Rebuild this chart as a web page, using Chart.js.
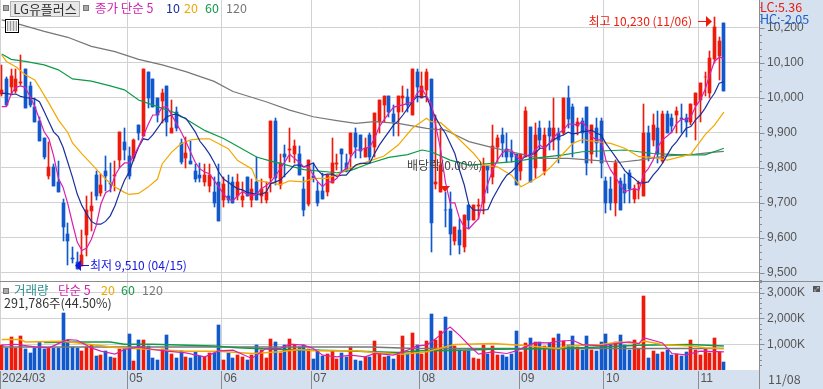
<!DOCTYPE html>
<html>
<head>
<meta charset="utf-8">
<script src="https://cdn.jsdelivr.net/npm/chart.js@4/dist/chart.umd.min.js"></script>
<style>
  html, body { margin: 0; padding: 0; width: 823px; height: 389px; overflow: hidden; background: #d6e1ef; }
  #price, #vol { position: absolute; left: 0; display: block; }
  #price { top: 0; }
  #vol { top: 282px; }
  .sep { position: absolute; left: 0; top: 281px; width: 823px; height: 1px; background: #8c8c8c; }
  .vline { position: absolute; left: 759px; top: 370px; width: 1px; height: 19px; background: #8c8c8c; }
  .t { position: absolute; font: 12.5px "Noto Sans CJK KR", "Liberation Sans", sans-serif; line-height: 14px; white-space: nowrap; }
  .sq { position: absolute; width: 4px; height: 4px; background: #aaa; border: 1px solid #777; }
  #nameBox { position: absolute; left: 10px; top: 1px; width: 68px; height: 14px; background: #e8e8e8; border: 1px solid #b0b0b0; color: #333; text-align: center; font: 13px/14px "Noto Sans CJK KR", sans-serif; }
  #tableIcon { position: absolute; left: 5px; top: 19px; width: 12px; height: 12px; border: 1px solid #000; background: #fff; }
  #tableIcon div { margin: 1px; width: 10px; height: 10px; background: repeating-linear-gradient(90deg, #999 0 1px, #ddd 1px 3px); }
  #zoomIcon { position: absolute; left: 813px; top: 286px; width: 7px; height: 6px; background: #555; color: #fff; font: 6px/6px "DejaVu Sans", sans-serif; text-align: center; }
</style>
</head>
<body>
<canvas id="price" width="823" height="281"></canvas>
<canvas id="vol" width="823" height="107"></canvas>
<div class="sep"></div>
<div class="vline"></div>

<div class="sq" style="left:3px;top:5px"></div>
<div id="nameBox">LG유플러스</div>
<div class="sq" style="left:83px;top:5px"></div>
<div class="t" style="left:95px;top:1px;color:#d020b0">종가 단순 5</div>
<div class="t" style="left:166px;top:1px;color:#1a2f9c">10</div>
<div class="t" style="left:184px;top:1px;color:#f0a800">20</div>
<div class="t" style="left:205px;top:1px;color:#12994a">60</div>
<div class="t" style="left:226px;top:1px;color:#777">120</div>
<div id="tableIcon"><div></div></div>
<div class="t" style="left:760px;top:0px;color:#e8190c">LC:5.36</div>
<div class="t" style="left:760px;top:12px;color:#1e5fc8">HC:-2.05</div>

<div class="sq" style="left:3px;top:288px"></div>
<div class="t" style="left:14px;top:283px;color:#2f8f8f">거래량</div>
<div class="t" style="left:58px;top:283px;color:#d020b0">단순 5</div>
<div class="t" style="left:101px;top:283px;color:#f0a800">20</div>
<div class="t" style="left:121px;top:283px;color:#12994a">60</div>
<div class="t" style="left:142px;top:283px;color:#777">120</div>
<div class="t" style="left:4px;top:296px;color:#333">291,786주(44.50%)</div>
<div class="t" style="left:768px;top:372px;color:#555">11/08</div>
<div id="zoomIcon">⤢</div>

<script>
const opens = [
  10010,10052,10031,10020,10041,10082,10033,9972,9934,9883,
  9777,9801,9760,9700,9610,9541,9529,9519,9608,9677,
  9780,9727,9791,9755,9777,9822,9872,9832,9828,9922,
  9890,10073,10053,10000,9990,10033,9898,9960,9871,9828,
  9820,9791,9780,9758,9748,9731,9760,9708,9720,9760,
  9720,9708,9772,9708,9760,9720,9708,9769,9933,9751,
  9840,9851,9838,9840,9740,9697,9775,9733,9733,9730,
  9757,9810,9853,9813,9838,9900,9893,9831,9893,9859,
  9931,9979,10003,9953,9960,10000,10001,9950,10074,10000,
  10022,10053,9754,9730,9680,9681,9589,9622,9573,9692,
  9649,9690,9699,9804,9773,9859,9893,9853,9845,9840,
  9791,9831,9915,9799,9912,9791,9912,9878,9900,9900,
  10000,9972,9920,9933,9972,9838,9912,9933,9761,9740,
  9699,9761,9753,9783,9710,9753,9719,9900,9878,9912,
  9818,9953,9942,9950,9941,9942,9931,9979,9993,10058,
  10012,10109,10119,10212
];
const closes = [
  10022,9979,10062,10053,10045,9971,9979,9931,9876,9830,
  9801,9748,9729,9629,9589,9538,9510,9550,9679,9691,
  9718,9751,9777,9752,9780,9901,9849,9777,9880,9898,
  10082,9999,9974,9950,10012,9931,9912,9912,9815,9841,
  9810,9767,9769,9780,9780,9698,9648,9753,9708,9698,
  9760,9720,9718,9739,9708,9739,9729,9933,9769,9814,
  9831,9853,9861,9778,9678,9821,9771,9699,9711,9780,
  9812,9813,9838,9794,9900,9859,9847,9855,9831,9955,
  9993,10003,9960,9931,10003,10003,9979,10082,10031,10033,
  10074,9642,9759,9807,9678,9609,9630,9580,9664,9649,
  9692,9693,9804,9792,9861,9883,9869,9831,9831,9751,
  9840,9961,9759,9893,9878,9893,9891,9912,9878,10000,
  9939,9871,9931,9900,9812,9921,9871,9812,9699,9699,
  9812,9680,9728,9740,9740,9755,9900,9831,9921,9838,
  9952,9900,9920,9962,9938,9931,9982,10012,10041,10060,
  10112,10201,10162,10020
];
const highs = [
  10093,10060,10082,10082,10122,10082,10045,9998,9943,9883,
  9873,9810,9820,9710,9641,9572,9560,9622,9720,9731,
  9791,9782,9834,9812,9820,9901,9914,9858,9881,9922,
  10082,10073,10053,10000,10024,10033,9993,9974,9882,9887,
  9877,9811,9812,9810,9810,9772,9811,9772,9780,9772,
  9782,9758,9772,9768,9830,9768,9758,9933,9941,9840,
  9864,9912,9878,9861,9773,9821,9812,9759,9783,9780,
  9883,9840,9853,9840,9900,9912,9893,9883,9900,9955,
  9993,10003,10003,9979,10003,10033,10024,10082,10082,10074,
  10081,10053,9950,9912,9730,9730,9630,9654,9664,9692,
  9692,9711,9826,9804,9921,9893,9912,9900,9878,9840,
  9840,9974,9915,9926,9933,9912,9933,10000,9912,10000,
  10033,9982,9942,9942,9972,9921,9942,9942,9772,9772,
  9821,9769,9781,9793,9750,9761,9982,9920,9952,9962,
  9962,9962,9953,9972,9982,9953,9982,10012,10041,10074,
  10133,10231,10174,10212
];
const lows = [
  10005,9975,10007,10012,10035,9971,9972,9931,9876,9825,
  9767,9748,9729,9589,9521,9528,9510,9519,9548,9619,
  9708,9718,9734,9729,9734,9800,9822,9767,9820,9880,
  9890,9971,9974,9931,9926,9891,9898,9905,9810,9799,
  9810,9758,9758,9748,9729,9688,9648,9688,9698,9698,
  9708,9688,9718,9688,9708,9699,9698,9730,9750,9740,
  9773,9816,9812,9778,9662,9689,9759,9689,9711,9719,
  9757,9794,9788,9788,9794,9826,9826,9829,9812,9830,
  9898,9931,9945,9890,9890,9960,9960,9950,9988,10000,
  9988,9560,9740,9730,9630,9549,9580,9554,9560,9625,
  9649,9654,9668,9726,9754,9816,9831,9816,9816,9751,
  9764,9831,9759,9769,9852,9778,9850,9850,9812,9893,
  9912,9831,9893,9871,9780,9812,9831,9771,9671,9680,
  9661,9680,9700,9700,9700,9710,9719,9818,9862,9812,
  9812,9900,9900,9900,9900,9888,9921,9879,9931,10003,
  10000,10098,10050,10020
];
// 거래량 (K)
const volumes = [
  962,859,1269,859,1308,808,667,872,1090,833,
  859,859,859,2231,1154,897,846,744,897,962,
  538,577,731,513,474,833,859,1385,359,1154,
  1154,923,474,385,808,1346,615,474,744,513,
  474,705,551,513,641,641,1731,385,667,449,
  577,513,385,577,962,769,474,1192,1090,667,
  962,1192,962,897,962,808,423,795,538,603,
  744,423,641,513,897,385,346,513,513,1115,
  615,500,538,423,667,1308,615,1436,962,628,
  1115,2154,1179,1500,2038,1500,923,795,731,731,
  462,423,962,615,923,577,577,500,615,1500,
  692,1038,1231,1103,1077,923,1064,1231,1385,1128,
  962,1308,897,769,1308,769,731,1077,1385,962,
  1090,1346,962,769,1154,833,2885,462,731,615,
  692,769,577,615,538,692,1154,769,577,808,
  654,1231,692,292
];

const ma5Index = [0,1,2,3,4,5,6,7,8,9,10,11,12,13,14,15,16,17,18,19,20,21,22,23,24,25,26,27,28,29,30,31,32,33,34,35,36,37,38,39,40,41,42,43,44,45,46,47,48,49,50,51,52,53,54,55,56,57,58,59,60,61,62,63,64,65,66,67,68,69,70,71,72,73,74,75,76,77,78,79,80,81,82,83,84,85,86,87,88,89,90,91,92,93,94,95,96,97,98,99,100,101,102,103,104,105,106,107,108,109,110,111,112,113,114,115,116,117,118,119,120,121,122,123,124,125,126,127,128,129,130,131,132,133,134,135,136,137,138,139,140,141,142,143,144,145,146,147,148,149,150,151,152,153];
const ma5 = [
  9974,9974,10010,10029,10033,10029,10003,9974,9938,9902,
  9882,9833,9770,9743,9697,9640,9587,9563,9570,9595,
  9633,9695,9728,9736,9777,9800,9813,9813,9834,9860,
  9890,9922,9950,9950,9972,9974,9950,9926,9902,9875,
  9844,9815,9796,9787,9782,9763,9744,9724,9710,9705,
  9720,9731,9724,9720,9724,9739,9748,9759,9775,9797,
  9816,9838,9826,9816,9802,9802,9778,9759,9745,9759,
  9759,9769,9788,9797,9831,9850,9850,9855,9859,9883,
  9917,9936,9955,9972,9976,9979,9983,9988,10012,10026,
  10003,9983,9917,9850,9759,9699,9699,9654,9630,9625,
  9640,9654,9711,9754,9792,9821,9840,9851,9850,9832,
  9821,9836,9831,9850,9864,9855,9869,9888,9899,9907,
  9924,9924,9921,9931,9912,9888,9879,9879,9821,9793,
  9774,9750,9731,9735,9740,9735,9781,9797,9821,9859,
  9879,9890,9902,9926,9938,9936,9945,9974,9993,10022,
  10065,10103,10115,10112
];
const ma10Index = ma5Index;
const ma10 = [
  10012,10012,10009,10010,10003,10000,9998,9996,9988,9960,
  9931,9902,9888,9858,9815,9772,9724,9691,9667,9646,
  9638,9638,9646,9662,9691,9729,9763,9787,9825,9858,
  9882,9879,9893,9912,9931,9945,9950,9953,9945,9941,
  9922,9902,9875,9858,9839,9815,9787,9767,9758,9748,
  9739,9736,9729,9726,9724,9724,9729,9754,9759,9764,
  9778,9792,9807,9807,9802,9807,9813,9792,9778,9781,
  9781,9775,9778,9778,9794,9807,9812,9812,9813,9840,
  9864,9883,9902,9921,9933,9950,9969,9988,10003,10001,
  10003,9969,9941,9917,9898,9869,9840,9792,9750,9692,
  9678,9678,9678,9680,9711,9735,9759,9778,9788,9802,
  9821,9833,9836,9840,9855,9855,9869,9879,9888,9893,
  9901,9896,9898,9903,9903,9907,9898,9893,9869,9850,
  9831,9812,9791,9778,9769,9756,9756,9759,9778,9793,
  9812,9836,9859,9874,9893,9912,9917,9936,9950,9969,
  9993,10012,10041,10045
];
const ma20Index = [0,1,3,5,7,8,10,12,14,15,17,20,22,24,26,27,29,31,33,34,36,38,40,42,44,46,48,50,53,54,57,59,61,64,66,69,72,74,78,81,84,87,90,91,93,96,100,102,105,108,110,112,114,116,119,121,123,126,129,132,135,138,141,144,146,149,151,153];
const ma20 = [10122,10103,10088,10065,10050,10029,9984,9936,9900,9870,9839,9796,9767,9744,9729,9723,9726,9744,9767,9810,9844,9868,9879,9882,9882,9868,9854,9820,9796,9763,9756,9751,9762,9759,9769,9769,9785,9800,9819,9833,9864,9912,9941,9931,9928,9893,9840,9807,9802,9778,9745,9759,9775,9797,9840,9869,9880,9874,9869,9855,9831,9829,9821,9831,9838,9893,9921,9958];
const ma60Index = [0,2,5,9,12,15,19,23,26,29,33,37,41,43,47,49,54,57,59,64,71,74,78,82,86,89,91,95,99,104,108,114,119,123,132,138,144,149,152,153];
const ma60 = [10124,10109,10103,10093,10079,10053,10047,10033,10022,9993,9974,9955,9922,9906,9883,9868,9830,9818,9812,9794,9785,9792,9812,9829,9837,9850,9845,9821,9807,9812,9816,9828,9836,9845,9850,9840,9836,9836,9850,9855];
const ma120Index = [0,4,9,14,19,24,29,34,39,45,49,56,61,66,71,75,79,84,90,94,99,104,108,114,120,125,131,135,141,147,151,153];
const ma120 = [10222,10208,10189,10172,10146,10131,10109,10093,10074,10046,10017,9988,9964,9945,9934,9926,9931,9926,9912,9907,9874,9857,9845,9826,9826,9821,9815,9821,9833,9838,9844,9846];

const volMa5Index = [0,3,7,10,12,14,16,19,21,24,26,29,32,35,39,43,46,49,53,56,59,61,64,66,68,71,74,77,79,83,86,88,90,92,94,95,97,99,101,104,107,109,113,116,118,121,123,127,130,133,135,136,140,142,145,148,153];
const volMa5 = [962,1000,897,859,1025,1179,1154,859,731,615,795,897,795,731,667,513,744,769,449,833,833,1000,962,833,577,513,577,513,641,577,769,936,962,1218,1538,1667,1346,962,615,705,641,744,1064,1051,1115,1154,987,936,1026,1090,1026,1256,1051,641,590,731,705];
const volMa20Index = [0,4,5,13,17,22,24,32,39,46,53,59,63,66,75,79,85,90,96,104,110,118,120,127,131,135,136,140,146,149,153];
const volMa20 = [1180,1180,1090,1115,1025,923,872,800,731,731,641,705,795,744,744,679,615,705,987,1026,962,833,936,987,1090,1026,1128,987,936,859,833];
const volMa60Index = [9,17,23,26,32,45,50,59,67,72,84,89,95,104,118,123,135,146,153];
const volMa60 = [1064,1090,1090,1000,1000,936,859,795,769,744,679,744,756,808,833,859,962,987,936];
const volMa120Index = [0,59,78,88,104,153];
const volMa120 = [897,897,897,833,833,833];

// 월 시작 봉, 축 글자
const monthStarts = [0,27,47,66,89,110,128,148];
const monthLabels = ['2024/03','05','06','07','08','09','10','11'];
const priceLabels = [9500,9600,9700,9800,9900,10000,10100,10200];
const priceMinorTicks = [9480,9500,9520,9540,9560,9580,9600,9620,9640,9660,9680,9700,9720,9740,9760,9780,9800,9820,9840,9860,9880,9900,9920,9940,9960,9980,10000,10020,10040,10060,10080,10100,10120,10140,10160,10180,10200,10220,10240,10260];
const volLabels = [1000,2000,3000];
const volMinorTicks = [200,400,600,800,1000,1200,1400,1600,1800,2000,2200,2400,2600,2800,3000,3200,3400];

const RED = '#ee1a0c', BLUE = '#1158cc', GRID = '#d2d2d2', AXIS = '#8c8c8c';
const MA5C = '#d820b0', MA10C = '#1a2f9c', MA20C = '#f2a900', MA60C = '#0f9a48', MA120C = '#777777';
const AXIS_FONT = { family: '"Liberation Sans", sans-serif', size: 12 };
const X_MIN = -0.36, X_MAX = 160.44, GRID_SHIFT = 0.4;

const barColor = opens.map((o, i) => closes[i] >= o ? RED : BLUE);

function lineSet(idx, vals, color, order, width) {
  return {
    type: 'line',
    data: idx.map((x, k) => ({ x: x, y: vals[k] })),
    borderColor: color,
    borderWidth: width,
    pointRadius: 0,
    tension: 0,
    order: order
  };
}

function monthTicks(scale) {
  scale.ticks = monthStarts.map(i => ({ value: i === 0 ? X_MIN : i - GRID_SHIFT }));
}

function noPadding(s) {
  s.paddingTop = s.paddingBottom = s.paddingLeft = s.paddingRight = 0;
}

// 막대를 픽셀에 맞춘다
const snapBars = {
  id: 'snapBars',
  afterDatasetsUpdate(chart) {
    chart.data.datasets.forEach((ds, k) => {
      if (ds.type === 'line') return;
      chart.getDatasetMeta(k).data.forEach(el => {
        el.x = Math.round(el.x - 0.5) + 0.5;
        el.y = Math.round(el.y);
        el.base = Math.round(el.base);
      });
    });
  }
};

const plotBg = {
  id: 'plotBg',
  beforeDraw(chart) {
    const a = chart.chartArea, ctx = chart.ctx;
    ctx.fillStyle = '#fff';
    ctx.fillRect(a.left, a.top, a.right - a.left, a.bottom - a.top);
  }
};

function axisTicks(labels) {
  return {
    id: 'axisTicks',
    afterDraw(chart) {
      const s = chart.scales.y, ctx = chart.ctx, x = chart.chartArea.right;
      ctx.save();
      ctx.strokeStyle = AXIS;
      ctx.lineWidth = 1;
      s.ticks.forEach(t => {
        const y = Math.round(s.getPixelForValue(t.value)) + 0.5;
        const len = labels.includes(t.value) ? 5 : 2.5;
        ctx.beginPath();
        ctx.moveTo(x, y);
        ctx.lineTo(x + len + 0.5, y);
        ctx.stroke();
      });
      ctx.restore();
    }
  };
}

const annotations = {
  id: 'annotations',
  afterDatasetsDraw(chart) {
    const ctx = chart.ctx, sx = chart.scales.x;
    const maxX = Math.round(sx.getPixelForValue(151));
    const minX = Math.round(sx.getPixelForValue(16));
    const divX = Math.round(sx.getPixelForValue(94));
    ctx.save();
    ctx.textBaseline = 'middle';
    ctx.font = '12px "Noto Sans CJK KR", sans-serif';

    ctx.fillStyle = '#444';
    ctx.textAlign = 'left';
    ctx.fillText('배당락(0.00%)', 407, 165);

    // 배당락 표시
    ctx.fillStyle = RED;
    ctx.beginPath();
    ctx.moveTo(divX - 5, 186); ctx.lineTo(divX + 5, 186); ctx.lineTo(divX, 192);
    ctx.fill();

    // 최고
    ctx.fillStyle = RED; ctx.strokeStyle = RED;
    ctx.textAlign = 'right';
    ctx.fillText('최고 10,230 (11/06)', maxX - 22, 21);
    ctx.beginPath(); ctx.moveTo(maxX - 16, 21.5); ctx.lineTo(maxX - 8, 21.5); ctx.stroke();
    ctx.beginPath();
    ctx.moveTo(maxX - 8, 16); ctx.lineTo(maxX - 2, 21.5); ctx.lineTo(maxX - 8, 27);
    ctx.fill();

    // 최저
    ctx.fillStyle = '#1515e0'; ctx.strokeStyle = '#1515e0';
    ctx.textAlign = 'left';
    ctx.fillText('최저 9,510 (04/15)', minX + 13, 265.5);
    ctx.beginPath(); ctx.moveTo(minX + 4, 265.5); ctx.lineTo(minX + 12, 265.5); ctx.stroke();
    ctx.beginPath();
    ctx.moveTo(minX - 2, 265.5); ctx.lineTo(minX + 4, 260); ctx.lineTo(minX + 4, 271);
    ctx.fill();
    ctx.restore();
  }
};

new Chart(document.getElementById('price'), {
  type: 'bar',
  data: {
    datasets: [
      lineSet(ma5Index, ma5, MA5C, 1, 1.2),
      lineSet(ma10Index, ma10, MA10C, 2, 1.2),
      lineSet(ma20Index, ma20, MA20C, 3, 1.2),
      lineSet(ma60Index, ma60, MA60C, 4, 1.2),
      lineSet(ma120Index, ma120, MA120C, 5, 1.2),
      {
        data: opens.map((o, i) => ({ x: i, y: [o, closes[i]] })),
        backgroundColor: barColor,
        barThickness: 3,
        grouped: false,
        order: 6
      },
      {
        data: lows.map((l, i) => ({ x: i, y: [l, highs[i]] })),
        backgroundColor: barColor,
        barThickness: 1,
        grouped: false,
        order: 7
      }
    ]
  },
  options: {
    responsive: false,
    animation: false,
    events: [],
    layout: { padding: 0 },
    plugins: { legend: { display: false }, tooltip: { enabled: false } },
    scales: {
      x: {
        type: 'linear',
        offset: false,
        min: X_MIN,
        max: X_MAX,
        afterBuildTicks: monthTicks,
        afterFit(s) { s.height = 0; noPadding(s); },
        ticks: { display: false },
        border: { display: false },
        grid: { color: GRID, drawTicks: false, lineWidth: 1, offset: false }
      },
      y: {
        position: 'right',
        min: 10200 - 253.5 / 35 * 100,
        max: 10200 + 27.5 / 35 * 100,
        afterBuildTicks(s) { s.ticks = priceMinorTicks.map(v => ({ value: v })); },
        afterFit(s) { s.width = 64; noPadding(s); },
        border: { color: AXIS },
        grid: {
          drawTicks: false,
          color: c => priceLabels.includes(c.tick.value) ? GRID : 'rgba(0,0,0,0)'
        },
        ticks: {
          autoSkip: false,
          padding: 8,
          color: '#555',
          font: AXIS_FONT,
          callback: v => priceLabels.includes(v) ? v.toLocaleString('en-US') : ''
        }
      }
    }
  },
  plugins: [plotBg, snapBars, axisTicks(priceLabels), annotations]
});

new Chart(document.getElementById('vol'), {
  type: 'bar',
  data: {
    datasets: [
      lineSet(volMa5Index, volMa5, MA5C, 1, 1.2),
      lineSet(volMa20Index, volMa20, MA20C, 2, 1.5),
      lineSet(volMa60Index, volMa60, MA60C, 3, 1.5),
      lineSet(volMa120Index, volMa120, MA120C, 4, 1.5),
      {
        data: volumes.map((v, i) => ({ x: i, y: v })),
        backgroundColor: barColor,
        barThickness: 3,
        grouped: false,
        order: 5
      }
    ]
  },
  options: {
    responsive: false,
    animation: false,
    events: [],
    layout: { padding: 0 },
    plugins: { legend: { display: false }, tooltip: { enabled: false } },
    scales: {
      x: {
        type: 'linear',
        offset: false,
        min: X_MIN,
        max: X_MAX,
        afterBuildTicks: monthTicks,
        afterFit(s) { s.height = 19; noPadding(s); },
        border: { color: '#d6e1ef' },
        grid: { color: GRID, tickColor: AXIS, tickLength: 19, offset: false },
        ticks: {
          autoSkip: false,
          maxRotation: 0,
          align: 'start',
          padding: -18,
          labelOffset: 2,
          color: '#555',
          font: AXIS_FONT,
          callback: (v, i) => monthLabels[i]
        }
      },
      y: {
        position: 'right',
        min: 0,
        max: 88 / 25.77 * 1000,
        afterBuildTicks(s) { s.ticks = volMinorTicks.map(v => ({ value: v })); },
        afterFit(s) { s.width = 64; noPadding(s); },
        border: { color: AXIS },
        grid: {
          drawTicks: false,
          color: c => volLabels.includes(c.tick.value) ? GRID : 'rgba(0,0,0,0)'
        },
        ticks: {
          autoSkip: false,
          padding: 8,
          color: '#555',
          font: AXIS_FONT,
          callback: v => volLabels.includes(v) ? v.toLocaleString('en-US') + 'K' : ''
        }
      }
    }
  },
  plugins: [plotBg, snapBars, axisTicks(volLabels)]
});
</script>
</body>
</html>
